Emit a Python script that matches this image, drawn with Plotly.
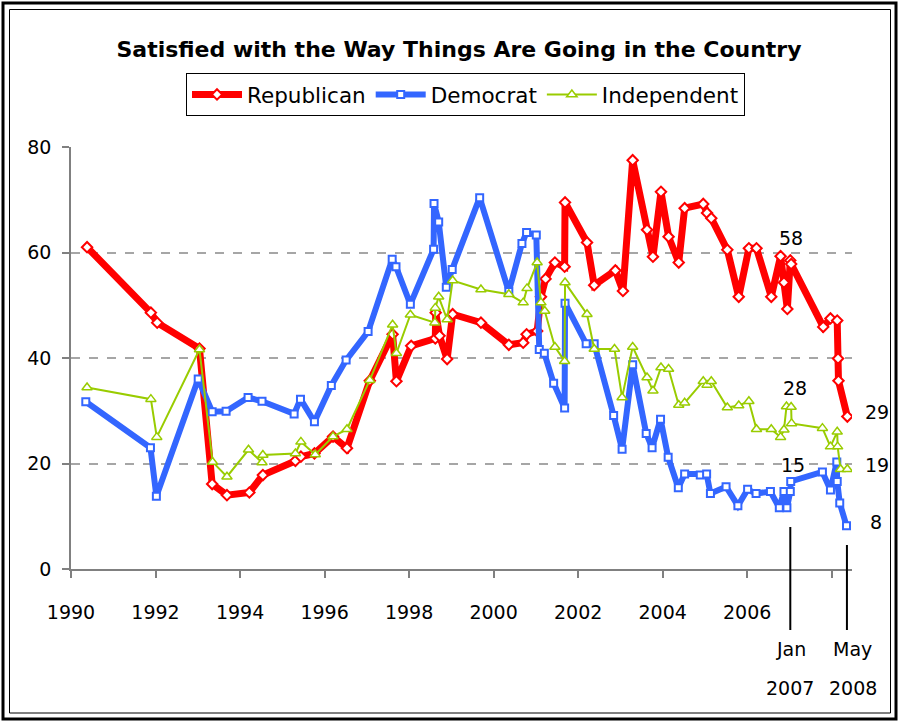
import plotly.graph_objects as go

# ---------------- data ----------------
rep_year = [1990.38, 1991.89, 1992.04, 1993.04, 1993.34, 1993.69, 1994.22, 1994.54, 1995.31, 1995.44,
            1995.76, 1996.20, 1996.53, 1997.07, 1997.61, 1997.70, 1998.05, 1998.62, 1998.63, 1998.72,
            1998.90, 1999.03, 1999.70, 2000.36, 2000.70, 2000.78, 2001.03, 2001.12, 2001.23, 2001.45,
            2001.68, 2001.69, 2002.21, 2002.38, 2002.88, 2003.06, 2003.29, 2003.63, 2003.77, 2003.96,
            2004.14, 2004.38, 2004.52, 2004.96, 2005.05, 2005.15, 2005.53, 2005.80, 2006.04, 2006.22,
            2006.57, 2006.79, 2006.87, 2006.95, 2007.02, 2007.04, 2007.80, 2007.97, 2008.13, 2008.15,
            2008.16, 2008.37]
rep_val = [61.0, 48.6, 46.7, 41.8, 16.1, 14.0, 14.5, 17.8, 20.5, 21.3,
           21.9, 25.1, 22.9, 35.7, 44.5, 35.6, 42.3, 43.7, 48.6, 44.2,
           39.8, 48.3, 46.7, 42.5, 42.9, 44.5, 45.1, 51.6, 55.0, 58.1,
           57.3, 69.5, 61.9, 53.8, 56.6, 52.7, 77.5, 64.3, 59.2, 71.5,
           63.0, 58.1, 68.4, 69.2, 67.5, 66.5, 60.5, 51.6, 60.8, 60.8,
           51.6, 59.3, 54.3, 49.3, 58.5, 57.8, 45.9, 47.5, 47.1, 39.9,
           35.7, 28.9]

dem_year = [1990.35, 1991.88, 1992.02, 1993.01, 1993.34, 1993.67, 1994.19, 1994.52, 1995.28, 1995.43,
            1995.76, 1996.16, 1996.51, 1997.03, 1997.60, 1997.69, 1998.03, 1998.58, 1998.59, 1998.70,
            1998.88, 1999.02, 1999.67, 2000.36, 2000.67, 2000.78, 2001.01, 2001.08, 2001.20, 2001.42,
            2001.68, 2001.69, 2002.19, 2002.38, 2002.84, 2003.04, 2003.29, 2003.61, 2003.75, 2003.95,
            2004.13, 2004.37, 2004.52, 2004.89, 2005.04, 2005.13, 2005.50, 2005.78, 2006.01, 2006.21,
            2006.55, 2006.76, 2006.87, 2006.94, 2007.02, 2007.03, 2007.78, 2007.97, 2008.12, 2008.13,
            2008.19, 2008.35]
dem_val = [31.7, 23.0, 13.8, 36.0, 29.8, 29.9, 32.5, 31.8, 29.4, 32.2,
           27.9, 34.8, 39.6, 45.0, 58.7, 57.3, 50.2, 60.6, 69.3, 65.8,
           53.4, 56.8, 70.4, 52.6, 61.7, 63.8, 63.3, 41.6, 40.9, 35.2,
           30.5, 50.4, 42.7, 42.7, 29.1, 22.7, 38.7, 25.7, 23.0, 28.4,
           21.2, 15.4, 18.0, 17.8, 18.0, 14.3, 15.6, 12.0, 15.1, 14.3,
           14.7, 11.6, 14.7, 11.6, 14.7, 16.6, 18.4, 15.0, 20.3, 16.6,
           12.5, 8.2]

ind_year = [1990.38, 1991.89, 1992.03, 1993.04, 1993.35, 1993.69, 1994.20, 1994.52, 1994.54, 1995.31,
            1995.44, 1995.78, 1996.20, 1996.53, 1997.07, 1997.61, 1997.70, 1998.03, 1998.61, 1998.62,
            1998.70, 1998.90, 1999.03, 1999.70, 2000.36, 2000.70, 2000.79, 2001.03, 2001.12, 2001.21,
            2001.45, 2001.68, 2001.69, 2002.21, 2002.38, 2002.86, 2003.04, 2003.29, 2003.63, 2003.77,
            2003.96, 2004.14, 2004.38, 2004.52, 2004.96, 2005.05, 2005.15, 2005.53, 2005.80, 2006.04,
            2006.22, 2006.57, 2006.79, 2006.87, 2006.93, 2007.04, 2007.05, 2007.78, 2007.97, 2008.13,
            2008.14, 2008.21, 2008.37]
ind_val = [34.4, 32.2, 25.0, 41.6, 20.3, 17.5, 22.6, 20.2, 21.6, 21.9,
           24.1, 21.7, 25.1, 26.5, 35.8, 46.3, 40.9, 48.2, 46.7, 49.5,
           51.6, 47.3, 54.7, 53.0, 52.1, 50.5, 53.2, 58.1, 50.5, 48.9,
           42.1, 39.4, 54.3, 48.3, 41.7, 41.7, 32.5, 42.1, 36.3, 33.8,
           38.2, 37.9, 31.1, 31.5, 35.6, 34.9, 35.6, 30.6, 31.0, 31.8,
           26.5, 26.5, 25.0, 26.4, 30.8, 30.7, 27.6, 26.7, 23.2, 26.0,
           23.2, 18.9, 18.9]

x_tick_vals = [1990, 1992, 1994, 1996, 1998, 2000, 2002, 2004, 2006, 2008]
x_tick_text = ["1990", "1992", "1994", "1996", "1998", "2000", "2002", "2004", "2006", ""]
y_tick_vals = [0, 20, 40, 60, 80]

jan_2007 = 2007.02
may_2008 = 2008.36

# ---------------- figure ----------------
W, H = 899, 722
ML, MR, MT, MB = 71, 47, 147, 153
PW, PH = W - ML - MR, H - MT - MB


def px(x):
    return (x - ML) / PW


def py(y):
    return (H - MB - y) / PH


FONT = "DejaVu Sans"
RED, BLUE, GREEN = "#FF0000", "#3366FF", "#99CC00"

fig = go.Figure()
fig.add_trace(go.Scatter(
    x=rep_year, y=rep_val, name="Republican", mode="lines+markers",
    line=dict(color=RED, width=7),
    marker=dict(symbol="diamond", size=8, color="white", line=dict(color=RED, width=2))))
fig.add_trace(go.Scatter(
    x=dem_year, y=dem_val, name="Democrat", mode="lines+markers",
    line=dict(color=BLUE, width=6),
    marker=dict(symbol="square", size=7, color="white", line=dict(color=BLUE, width=2))))
fig.add_trace(go.Scatter(
    x=ind_year, y=ind_val, name="Independent", mode="lines+markers",
    line=dict(color=GREEN, width=2),
    marker=dict(symbol="triangle-up", size=9, color="white", line=dict(color=GREEN, width=1.5))))

shapes = [
    # outer double frame
    dict(type="rect", xref="paper", yref="paper", x0=px(3), x1=px(896), y0=py(3), y1=py(719),
         line=dict(color="black", width=3), layer="above"),
    dict(type="rect", xref="paper", yref="paper", x0=px(9.5), x1=px(890.5), y0=py(9.5), y1=py(713),
         line=dict(color="black", width=1), layer="above"),
    # Jan 2007 / May 2008 markers
    dict(type="line", xref="x", yref="paper", x0=jan_2007, x1=jan_2007, y0=py(527), y1=py(630),
         line=dict(color="black", width=2), layer="above"),
    dict(type="line", xref="x", yref="paper", x0=may_2008, x1=may_2008, y0=py(545), y1=py(630),
         line=dict(color="black", width=2), layer="above"),
]

ann_font = dict(family=FONT, size=19, color="black")
annotations = [
    dict(text="58", x=px(791), y=py(238)),
    dict(text="28", x=px(795), y=py(388)),
    dict(text="15", x=px(793), y=py(465)),
    dict(text="29", x=px(877), y=py(412)),
    dict(text="19", x=px(877), y=py(465)),
    dict(text="8", x=px(876), y=py(522)),
    dict(text="Jan", x=px(791), y=py(649)),
    dict(text="May", x=px(852), y=py(649)),
    dict(text="2007", x=px(790), y=py(688)),
    dict(text="2008", x=px(853), y=py(688)),
]
for a in annotations:
    a.update(xref="paper", yref="paper", showarrow=False, font=ann_font,
             xanchor="center", yanchor="middle")

fig.update_layout(
    width=W, height=H,
    margin=dict(l=ML, r=MR, t=MT, b=MB, pad=0),
    paper_bgcolor="white", plot_bgcolor="white",
    font=dict(family=FONT, size=19, color="black"),
    title=dict(text="<b>Satisfied with the Way Things Are Going in the Country</b>",
               x=459 / W, xanchor="center", xref="container",
               y=1 - 49 / H, yanchor="middle", yref="container",
               font=dict(family=FONT, size=22, color="black")),
    legend=dict(orientation="h", x=px(465.5), xanchor="center", y=py(73), yanchor="top",
                bgcolor="white", bordercolor="black", borderwidth=1,
                font=dict(family=FONT, size=21.5, color="black"),
                itemwidth=50, tracegroupgap=0),
    xaxis=dict(range=[1990, 2008.48], tickmode="array", tickvals=x_tick_vals, ticktext=x_tick_text,
               showgrid=False, zeroline=False, showline=True, linecolor="#808080", linewidth=1.5,
               ticks="outside", ticklen=7, tickcolor="#808080", tickwidth=1.5,
               ticklabelstandoff=18, tickfont=dict(family=FONT, size=19, color="black")),
    yaxis=dict(range=[0, 80], tickmode="array", tickvals=y_tick_vals,
               showgrid=True, gridcolor="#A6A6A6", gridwidth=1.5, griddash="dash",
               zeroline=False, showline=True, linecolor="#808080", linewidth=1.5,
               ticks="outside", ticklen=7, tickcolor="#808080", tickwidth=1.5,
               ticklabelstandoff=7, tickfont=dict(family=FONT, size=19, color="black")),
    shapes=shapes,
    annotations=annotations,
    showlegend=True,
)

fig.write_html("out.html",
               config={"displayModeBar": False},
               post_script="document.body.style.margin='0';document.body.style.padding='0';")
